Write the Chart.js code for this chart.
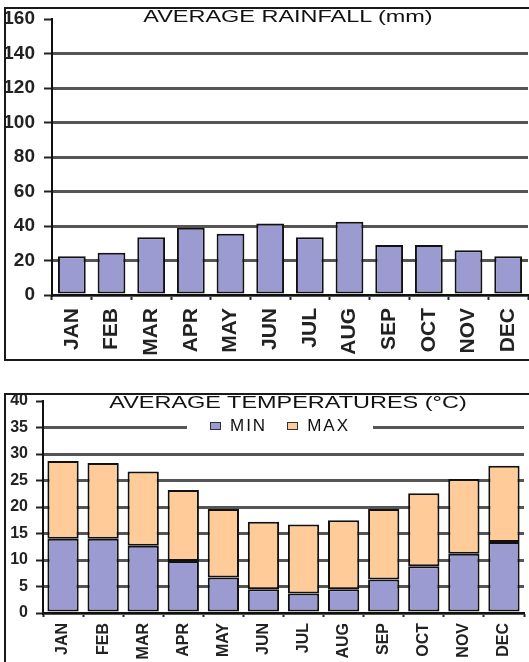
<!DOCTYPE html>
<html>
<head>
<meta charset="utf-8">
<script src="https://cdn.jsdelivr.net/npm/chart.js@4.4.1/dist/chart.umd.min.js"></script>
<style>
html, body { margin: 0; padding: 0; background: #fff; width: 529px; height: 662px; overflow: hidden; }
.box { position: absolute; left: 4px; border: 2px solid #1a1a1a; overflow: hidden; background: #fff; }
#box1 { top: 7px; width: 540px; height: 350px; }
#box2 { top: 393px; width: 540px; height: 290px; }
.title { position: absolute; left: 88px; width: 400px; text-align: center; white-space: nowrap;
  font: 17px "Liberation Sans", Arial, sans-serif; color: #111; line-height: 20px;
  transform: scaleX(1.38); transform-origin: 200px 0; }
#legend2 { position: absolute; left: 187px; top: 417px; width: 186px; height: 18px; background: #fff;
  display: flex; align-items: center; justify-content: center; gap: 20px;
  font: 17px "Liberation Sans", Arial, sans-serif; color: #111; letter-spacing: 2px; }
#legend2 .item { display: flex; align-items: center; gap: 9px; }
#legend2 .sw { width: 9px; height: 6px; border: 1px solid #333; }
</style>
</head>
<body>
<div class="box" id="box1"><canvas id="rain" width="540" height="350"></canvas></div>
<div class="box" id="box2"><canvas id="temp" width="540" height="290"></canvas></div>
<div class="title" style="top:7px">AVERAGE RAINFALL (mm)</div>
<div class="title" style="top:393px">AVERAGE TEMPERATURES (°C)</div>
<div id="legend2"></div>
<script>
const months = ["JAN", "FEB", "MAR", "APR", "MAY", "JUN", "JUL", "AUG", "SEP", "OCT", "NOV", "DEC"];
const rainfall = [22.5, 24.5, 33.5, 39, 35.5, 41.5, 33.5, 42.5, 29, 29, 26, 22.5];
const minTemp = [14, 14, 12.7, 9.8, 6.7, 4.5, 3.7, 4.5, 6.3, 8.8, 11.2, 13.4];
const maxTemp = [28.7, 28.3, 26.7, 23.2, 19.6, 17.2, 16.7, 17.5, 19.6, 22.6, 25.3, 27.8];

const purple = "#9b9bd1";
const peach = "#ffcc99";

function gridColor(ctx, top) {
    return ctx.tick && ctx.tick.value === top ? "rgba(0,0,0,0)" : "#555";
}

function makeOptions(cfg) {
    return {
        responsive: false,
        animation: false,
        layout: { padding: { top: cfg.top, right: cfg.right, left: 0, bottom: 0 } },
        plugins: { legend: { display: false }, title: { display: false }, tooltip: { enabled: false } },
        scales: {
            x: {
                stacked: cfg.stacked,
                grid: { display: true, drawOnChartArea: false, drawTicks: true, tickLength: cfg.xTick, tickColor: "#222", tickWidth: 2, offset: true },
                border: { display: true, color: "#111", width: 2 },
                ticks: {
                    autoSkip: false, minRotation: 90, maxRotation: 90, padding: cfg.xPad, color: "#222",
                    font: { family: "'Liberation Sans', Arial, sans-serif", size: cfg.xFont, weight: "bold" }
                },
                afterFit: (scale) => { scale.height = cfg.xHeight; scale.paddingLeft = 0; scale.paddingRight = 0; }
            },
            y: {
                min: 0, max: cfg.max,
                grid: { color: (ctx) => gridColor(ctx, cfg.max), lineWidth: 3, tickLength: cfg.yTick, tickColor: "#222", tickWidth: 2 },
                border: { display: true, color: "#111", width: 2 },
                ticks: {
                    stepSize: cfg.step, padding: cfg.yPad, color: "#222",
                    font: { family: "'Liberation Sans', Arial, sans-serif", size: cfg.yFont, weight: "bold" }
                },
                afterFit: (scale) => { scale.width = cfg.yWidth; scale.paddingTop = 0; scale.paddingBottom = 0; }
            }
        }
    };
}

new Chart(document.getElementById("rain"), {
    type: "bar",
    data: {
        labels: months,
        datasets: [{
            label: "RAINFALL",
            data: rainfall,
            backgroundColor: purple,
            borderColor: "#111",
            borderWidth: 2,
            borderSkipped: false,
            barPercentage: 0.7,
            categoryPercentage: 1
        }]
    },
    options: makeOptions({ top: 10, right: 18, max: 160, step: 20, xFont: 21, yFont: 19, xTick: 5, xPad: 8, xHeight: 64, yTick: 8, yPad: 9, yWidth: 46, stacked: false })
});

const tempChart = new Chart(document.getElementById("temp"), {
    type: "bar",
    data: {
        labels: months,
        datasets: [{
            label: "MIN",
            data: minTemp,
            backgroundColor: purple,
            borderColor: "#111",
            borderWidth: 2,
            borderSkipped: false,
            barPercentage: 0.78,
            categoryPercentage: 1
        }, {
            label: "MAX",
            data: maxTemp.map((v, i) => [minTemp[i], v]),
            backgroundColor: peach,
            borderColor: "#111",
            borderWidth: 2,
            borderSkipped: false,
            barPercentage: 0.78,
            categoryPercentage: 1
        }]
    },
    options: makeOptions({ top: 6, right: 22, max: 40, step: 5, xFont: 16, yFont: 16, xTick: 4, xPad: 6, xHeight: 72, yTick: 7, yPad: 8, yWidth: 37, stacked: true })
});

// legend built from the chart's datasets
const legendEl = document.getElementById("legend2");
tempChart.data.datasets.forEach((ds) => {
    const item = document.createElement("span");
    item.className = "item";
    const sw = document.createElement("span");
    sw.className = "sw";
    sw.style.background = ds.backgroundColor;
    const txt = document.createElement("span");
    txt.textContent = ds.label;
    item.appendChild(sw);
    item.appendChild(txt);
    legendEl.appendChild(item);
});
</script>
</body>
</html>
